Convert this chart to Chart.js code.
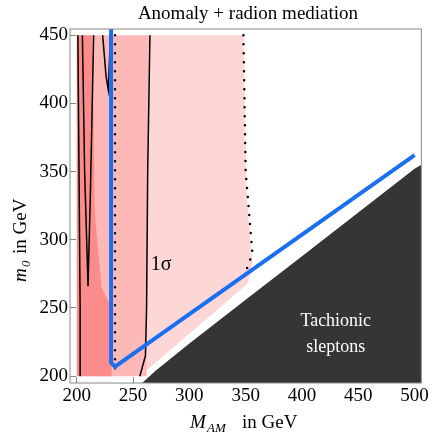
<!DOCTYPE html>
<html><head><meta charset="utf-8">
<script src="https://cdn.jsdelivr.net/npm/chart.js@4"></script>
<style>body{margin:0;background:#fff}#wrap{width:437px;height:437px}</style>
</head><body><div id="wrap"><canvas id="c" width="437" height="437"></canvas></div>
<script>
const xTicks = [200, 250, 300, 350, 400, 450, 500];
const yTicks = [200, 250, 300, 350, 400, 450];

// shaded regions (x, y) in GeV
const darkRed = [[200,450],[214,450],[216,320],[222,265],[231,250],[231,200],[200,200]];
const midRed = [[214,450],[264,450],[262,200],[200,200],[214,200]];
const lightRed = [[262,450],[348,450],[351,330],[356,283],[352,268],[256,200],[262,200]];
const tachyon = [[258,195],[270,204],[300,224],[350,256],[400,288],[450,320],[500,352],[506,355],[506,195]];

// contours
const contourA = [[201,450],[202,350],[203,250],[203,200]];
const contourV = [[205,450],[207,350],[210,266],[212,330],[215,450]];
const contourV2 = [[223,450],[226,420],[228,410],[229,430],[230,450]];
const contour1s = [[265,450],[263,350],[262,250],[261,215],[256,200]];
const dotsLeft = [[234,450],[234,200]];
const dotsRight = [[348,450],[350,350],[356,290],[348,272]];
const blueLine = [[230.5,455],[230.5,210],[234,207],[500,362]];

const pts = a => a.map(([x, y]) => ({x, y}));

function poly(data, color, order) {
  return { data: pts(data), showLine: true, fill: 'shape', backgroundColor: color,
    borderWidth: 0, pointRadius: 0, order };
}
function line(data, color, width, order, dash) {
  return { data: pts(data), showLine: true, fill: false, borderColor: color,
    borderWidth: width, pointRadius: 0, order, borderDash: dash || [],
    borderCapStyle: dash ? 'round' : 'butt', tension: 0 };
}

const labelsPlugin = {
  id: 'labels',
  afterDraw(chart) {
    const {ctx, scales: {x, y}, chartArea} = chart;
    ctx.save();
    ctx.font = '19px "Liberation Serif"';
    ctx.fillStyle = '#000';
    ctx.textAlign = 'center';
    ctx.fillText('Anomaly + radion mediation', 248, 19);
    ctx.font = '20px "Liberation Serif"';
    ctx.fillText('1σ', x.getPixelForValue(275), y.getPixelForValue(278));
    ctx.fillStyle = '#fff';
    ctx.font = '18px "Liberation Serif"';
    ctx.fillText('Tachionic', x.getPixelForValue(430), y.getPixelForValue(237));
    ctx.fillText('sleptons', x.getPixelForValue(430), y.getPixelForValue(218));
    // x title
    ctx.fillStyle = '#000';
    ctx.textAlign = 'left';
    ctx.font = 'italic 19px "Liberation Serif"';
    ctx.fillText('M', 190, 428);
    ctx.font = 'italic 13px "Liberation Serif"';
    ctx.fillText('AM', 207, 432);
    ctx.font = '19px "Liberation Serif"';
    ctx.fillText('in GeV', 242, 428);
    // y title
    ctx.translate(26, 210);
    ctx.rotate(-Math.PI / 2);
    ctx.textAlign = 'left';
    ctx.font = 'italic 19px "Liberation Serif"';
    ctx.fillText('m', -72, 0);
    ctx.font = 'italic 13px "Liberation Serif"';
    ctx.fillText('0', -57, 4);
    ctx.font = '19px "Liberation Serif"';
    ctx.fillText('in GeV', -44, 0);
    ctx.restore();
    // frame
    ctx.save();
    ctx.strokeStyle = '#888';
    ctx.lineWidth = 1;
    ctx.strokeRect(chartArea.left, chartArea.top, chartArea.right - chartArea.left, chartArea.bottom - chartArea.top);
    ctx.restore();
  }
};

new Chart(document.getElementById('c'), {
  type: 'scatter',
  data: { datasets: [
    poly(darkRed, '#fc8c8c', 10),
    poly(midRed, '#fdb8b8', 11),
    poly(lightRed, '#fdd6d6', 12),
    poly(tachyon, '#353535', 5),
    line(contourA, '#000', 1.5, 4),
    line(contourV, '#000', 1.5, 4),
    line(contourV2, '#000', 1.5, 4),
    line(contour1s, '#000', 1.5, 4),
    line(dotsLeft, '#000', 2.5, 3, [0, 9]),
    line(dotsRight, '#000', 2.5, 3, [0, 9]),
    line(blueLine, '#1a6ff0', 4, 1)
  ]},
  options: {
    responsive: false, animation: false,
    layout: { padding: { left: 0, right: 9, top: 29, bottom: 0 } },
    plugins: { legend: { display: false }, tooltip: { enabled: false } },
    scales: {
      x: { type: 'linear', min: 194, max: 506,
        afterBuildTicks: s => { s.ticks = xTicks.map(v => ({value: v})); },
        grid: { display: true, drawOnChartArea: false, tickLength: -6, color: '#888' },
        border: { display: false },
        ticks: { color: '#000', font: { family: 'Liberation Serif', size: 19 }, padding: 8, maxRotation: 0 },
        afterFit: s => { s.height = 54; } },
      y: { type: 'linear', min: 195, max: 454.5,
        afterBuildTicks: s => { s.ticks = yTicks.map(v => ({value: v})); },
        grid: { display: true, drawOnChartArea: false, tickLength: -6, color: '#888' },
        border: { display: false },
        ticks: { color: '#000', font: { family: 'Liberation Serif', size: 19 }, padding: 8 },
        afterFit: s => { s.width = 70; } }
    }
  },
  plugins: [labelsPlugin]
});
</script></body></html>
